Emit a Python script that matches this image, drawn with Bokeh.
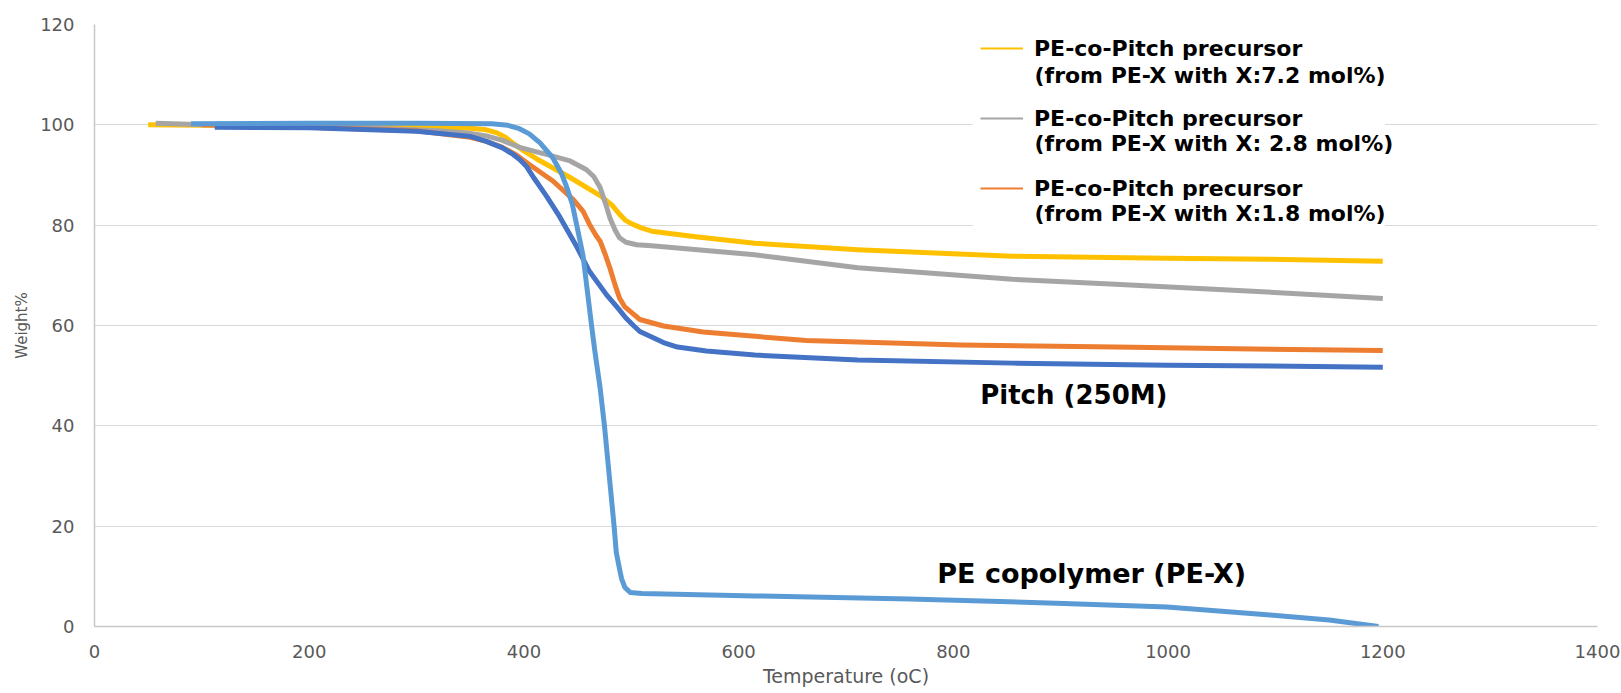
from bokeh.plotting import figure
from bokeh.models import (Range1d, Legend, LegendItem, Label, BoxAnnotation,
                          FixedTicker)
from bokeh.embed import file_html
from bokeh.resources import INLINE

# ---------------- data ----------------
x_ticks = [0, 200, 400, 600, 800, 1000, 1200, 1400]
y_ticks = [0, 20, 40, 60, 80, 100, 120]

t_72 = [50, 100, 200, 300, 350, 365, 375, 383, 390, 400, 412, 443, 471, 482, 489, 495, 501, 510, 519, 560, 615, 711, 855, 999, 1095, 1200]
w_72 = [100, 99.9, 99.8, 99.7, 99.3, 99.0, 98.4, 97.5, 96.3, 94.8, 93.2, 89.5, 85.9, 84.0, 82.2, 80.9, 80.2, 79.4, 78.8, 77.7, 76.4, 75.1, 73.8, 73.4, 73.2, 72.8]

t_28 = [57, 150, 250, 320, 350, 365, 380, 396, 410, 421, 443, 458, 465, 471, 476, 480, 485, 489, 495, 505, 519, 615, 711, 855, 951, 1047, 1200]
w_28 = [100.3, 99.7, 99.4, 98.8, 98.3, 97.8, 96.9, 95.5, 94.7, 94.1, 92.8, 91.1, 89.7, 87.5, 84.3, 81.5, 79.0, 77.5, 76.6, 76.1, 75.9, 74.1, 71.5, 69.2, 68.2, 67.2, 65.4]

t_18 = [100, 200, 300, 350, 365, 380, 393, 405, 427, 446, 455, 461, 467, 471, 476, 480, 485, 489, 494, 499, 508, 530, 567, 663, 807, 951, 1047, 1200]
w_18 = [100, 99.5, 98.8, 97.5, 96.7, 95.5, 94.0, 92.1, 88.8, 85.1, 82.8, 80.2, 78.0, 76.8, 74.0, 71.5, 68.0, 65.5, 63.7, 62.8, 61.2, 59.9, 58.7, 57.0, 56.1, 55.7, 55.4, 55.0]

t_pitch = [112, 200, 300, 350, 365, 380, 390, 396, 402, 410, 421, 433, 449, 461, 477, 487, 495, 502, 508, 519, 530, 543, 570, 615, 711, 855, 999, 1200]
w_pitch = [99.5, 99.4, 98.7, 97.7, 96.7, 95.4, 94.1, 93.1, 91.8, 89.2, 85.8, 81.8, 75.8, 70.8, 66.1, 63.6, 61.5, 60.0, 58.8, 57.7, 56.6, 55.7, 54.9, 54.1, 53.1, 52.5, 52.1, 51.7]

t_pex = [90, 200, 300, 370, 385, 395, 405, 415, 427, 435, 440, 445, 449, 455, 463, 466, 471, 475, 484, 486, 489, 491, 494, 499, 510, 615, 759, 903, 999, 1095, 1150, 1196]
w_pex = [100.2, 100.3, 100.3, 100.2, 99.9, 99.3, 98.2, 96.4, 93.4, 90.3, 87.5, 84.2, 80.2, 74.0, 60.0, 55.0, 47.5, 40.0, 20.0, 14.8, 11.5, 9.5, 7.8, 6.8, 6.6, 6.1, 5.5, 4.6, 3.9, 2.3, 1.3, 0.0]

legend_line1 = "PE-co-Pitch precursor"
legend_line2 = ["(from PE-X with X:7.2 mol%)", "(from PE-X with X: 2.8 mol%)", "(from PE-X with X:1.8 mol%)"]

C_YEL = "#FFC000"
C_GRY = "#A5A5A5"
C_ORG = "#ED7D31"
C_DBL = "#4472C4"
C_LBL = "#5B9BD5"

# ---------------- figure ----------------
p = figure(width=1621, height=693, output_backend="svg", toolbar_location=None,
           x_range=Range1d(0, 1400), y_range=Range1d(0, 120),
           min_border_left=94, min_border_right=24, min_border_top=24, min_border_bottom=67)
p.outline_line_color = None
p.background_fill_color = "white"

p.xgrid.visible = False
p.ygrid.grid_line_color = "#D9D9D9"
p.ygrid.grid_line_width = 1

p.xaxis.ticker = FixedTicker(ticks=x_ticks)
p.yaxis.ticker = FixedTicker(ticks=y_ticks)
for ax in (p.xaxis[0], p.yaxis[0]):
    ax.axis_line_color = "#C8C8C8"
    ax.axis_line_width = 1.5
    ax.major_tick_line_color = None
    ax.minor_tick_line_color = None
    ax.major_tick_out = 0
    ax.major_tick_in = 0
    ax.minor_tick_out = 0
    ax.minor_tick_in = 0
    ax.major_label_text_font = "DejaVu Sans"
    ax.major_label_text_font_size = "18px"
    ax.major_label_text_color = "#595959"
    ax.axis_label_text_font = "DejaVu Sans"
    ax.axis_label_text_font_style = "normal"
    ax.axis_label_text_color = "#595959"

p.xaxis.axis_label = "Temperature (oC)"
p.xaxis.axis_label_text_font_size = "19px"
p.xaxis.major_label_standoff = 18
p.xaxis.axis_label_standoff = 4

p.yaxis.axis_label = "Weight%"
p.yaxis.axis_label_text_font_size = "15px"
p.yaxis.major_label_standoff = 20
p.yaxis.axis_label_standoff = 6

# ---------------- curves ----------------
r72 = p.line(t_72, w_72, line_color=C_YEL, line_width=5, line_join="round")
r28 = p.line(t_28, w_28, line_color=C_GRY, line_width=5, line_join="round")
r18 = p.line(t_18, w_18, line_color=C_ORG, line_width=5, line_join="round")
rpi = p.line(t_pitch, w_pitch, line_color=C_DBL, line_width=5, line_join="round")
rpe = p.line(t_pex, w_pex, line_color=C_LBL, line_width=5, line_join="round")

# thin copies used only for the legend samples
l72 = p.line(t_72, w_72, line_color=C_YEL, line_width=2, visible=False)
l28 = p.line(t_28, w_28, line_color=C_GRY, line_width=2, visible=False)
l18 = p.line(t_18, w_18, line_color=C_ORG, line_width=2, visible=False)

# white area behind the legend (covers gridlines)
p.add_layout(BoxAnnotation(left=818, right=1202, top=119.6, bottom=79.4,
                           fill_color="white", fill_alpha=1.0, line_alpha=0))

legend = Legend(items=[LegendItem(label=legend_line1, renderers=[l72]),
                       LegendItem(label=legend_line1, renderers=[l28]),
                       LegendItem(label=legend_line1, renderers=[l18])],
                location=(886, 425), orientation="vertical",
                background_fill_alpha=0, border_line_color=None,
                padding=0, margin=0, spacing=44,
                glyph_width=43, glyph_height=26, label_height=26,
                label_standoff=11,
                label_text_font="DejaVu Sans", label_text_font_style="bold",
                label_text_font_size="22px", label_text_color="black")
p.add_layout(legend, "center")

# second lines of legend entries
for i, txt in enumerate(legend_line2):
    wy = [109.8, 96.2, 82.4][i]
    p.add_layout(Label(x=875.6, y=wy, text=txt, text_font="DejaVu Sans",
                       text_font_style="bold", text_font_size="22px",
                       text_color="black", text_baseline="middle", text_align="left"))

# curve annotations
p.add_layout(Label(x=825, y=46.2, text="Pitch (250M)", text_font="DejaVu Sans",
                   text_font_style="bold", text_font_size="26px", text_color="black",
                   text_baseline="middle", text_align="left"))
p.add_layout(Label(x=785, y=10.6, text="PE copolymer (PE-X)", text_font="DejaVu Sans",
                   text_font_style="bold", text_font_size="27px", text_color="black",
                   text_baseline="middle", text_align="left"))

open("out.html", "w").write(file_html(p, INLINE))
